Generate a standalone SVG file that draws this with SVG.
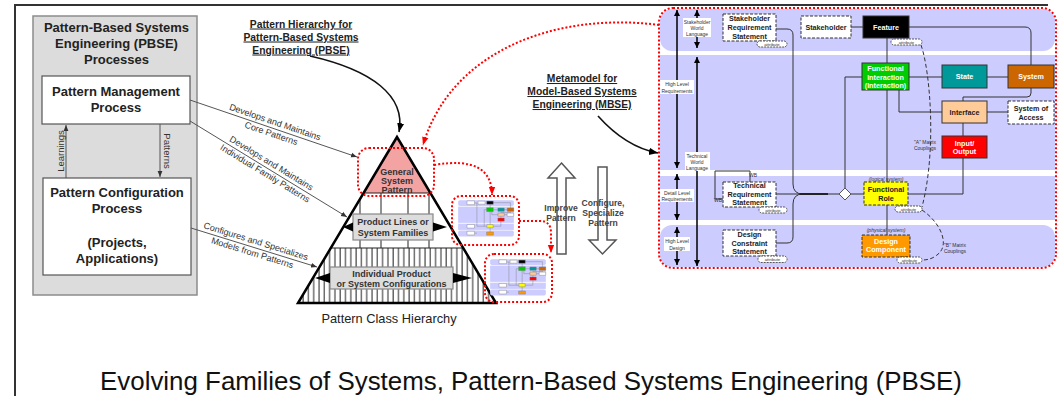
<svg xmlns="http://www.w3.org/2000/svg" width="1059" height="396" viewBox="0 0 1059 396">
<defs>
<style>
text{font-family:"Liberation Sans",Arial,Helvetica,sans-serif;}
.b{font-weight:bold;}
.c{text-anchor:middle;}
.frame{stroke:#333;stroke-width:2;fill:none;}
.box{fill:#fff;stroke:#555;stroke-width:1.2;}
.pt13{font-size:13px;fill:#222;font-weight:bold;text-anchor:middle;}
.lbl{font-size:9px;fill:#333;text-anchor:middle;}
.ln{stroke:#555;stroke-width:1;fill:none;}
.blk{stroke:#111;stroke-width:1.6;fill:none;}
.red{stroke:#f00;stroke-width:2;stroke-dasharray:2 2;fill:none;}
.mm{stroke:#333;stroke-width:1;fill:none;}
.mmd{stroke:#333;stroke-width:1;fill:none;stroke-dasharray:4 2.5;}
.lev{stroke:#000;stroke-width:1.5;fill:none;}
.band{fill:#ccccff;}
.node{stroke:#333;stroke-width:1;}
.dash{stroke-dasharray:3 1.5;}
.nt{font-size:7.2px;font-weight:bold;text-anchor:middle;fill:#222;}
.wt{fill:#fff;}
.tiny{font-size:5px;fill:#333;text-anchor:middle;}
.pill{fill:#fff;stroke:#333;stroke-width:0.8;stroke-dasharray:2 1;}
.ptx{font-size:4.3px;fill:#333;text-anchor:middle;}
.pyt{font-size:9px;font-weight:bold;fill:#333;text-anchor:middle;}
.ttl{font-size:10.3px;font-weight:bold;fill:#222;text-anchor:middle;text-decoration:underline;}
.hol{fill:#fff;stroke:#555;stroke-width:1.5;}
.mid{font-size:8.6px;font-weight:bold;fill:#444;text-anchor:middle;}
.mn{stroke:#777;stroke-width:0.4;vector-effect:non-scaling-stroke;}
</style>
<marker id="arr" viewBox="0 0 10 10" refX="10" refY="5" markerWidth="6" markerHeight="6" markerUnits="userSpaceOnUse" orient="auto"><path d="M0,1 L10,5 L0,9 z" fill="#333"/></marker>
<marker id="arrB" viewBox="0 0 10 10" refX="10" refY="5" markerWidth="9" markerHeight="9" markerUnits="userSpaceOnUse" orient="auto"><path d="M0,1 L10,5 L0,9 z" fill="#000"/></marker>
<marker id="arrR" viewBox="0 0 10 10" refX="10" refY="5" markerWidth="8" markerHeight="8" markerUnits="userSpaceOnUse" orient="auto"><path d="M0,1 L10,5 L0,9 z" fill="#f00"/></marker>
<marker id="lv" viewBox="0 0 10 10" refX="10" refY="5" markerWidth="6" markerHeight="6" markerUnits="userSpaceOnUse" orient="auto-start-reverse"><path d="M0,0 L10,5 L0,10 z" fill="#000"/></marker>
<pattern id="hatch" width="5.3" height="10" patternUnits="userSpaceOnUse"><line x1="1" y1="0" x2="1" y2="10" stroke="#222" stroke-width="1"/></pattern>
<clipPath id="triClip"><polygon points="397,137 298,303 496,303"/></clipPath>
<g id="mini">
<rect x="660" y="9" width="395" height="42" rx="12" class="band"/>
<rect x="660" y="55" width="395" height="115" class="band"/>
<rect x="660" y="176" width="395" height="44" class="band"/>
<rect x="660" y="225" width="395" height="42" rx="12" class="band"/>
<path class="mn" fill="none" d="M776,29 H793 V194 H864 M776,243 H793 M845,194 V77 H862 M887,38 V235 M909,27 H1031 V65 M909,77 H1008 M899,90 V112 H1008 M963,101 V97 H1031 V88 M963,123 V136 M963,158 V194 H908"/>
<rect class="mn" x="723" y="14" width="53" height="27" fill="#fff"/>
<rect class="mn" x="801" y="16" width="50" height="22" fill="#fff"/>
<rect class="mn" x="863" y="16" width="46" height="22" fill="#000"/>
<rect class="mn" x="862" y="63" width="47" height="27" fill="#00cc00"/>
<rect class="mn" x="942" y="65" width="45" height="23" fill="#009999"/>
<rect class="mn" x="1008" y="65" width="46" height="23" fill="#cc6600"/>
<rect class="mn" x="942" y="101" width="45" height="22" fill="#ffcc99"/>
<rect class="mn" x="1008" y="101" width="46" height="23" fill="#fff"/>
<rect class="mn" x="942" y="136" width="45" height="22" fill="#ff0000"/>
<rect class="mn" x="864" y="182" width="44" height="23" fill="#ffff00"/>
<rect class="mn" x="862" y="235" width="48" height="22" fill="#ff9900"/>
<rect class="mn" x="723" y="182" width="53" height="25" fill="#fff"/>
<rect class="mn" x="723" y="230" width="53" height="26" fill="#fff"/>
</g>
</defs>

<rect width="1059" height="396" fill="#fff"/>
<g id="frame"><path class="frame" d="M15,396 V5 H1048"/></g>

<g id="pbse-processes">
<rect x="33" y="16" width="164" height="279" fill="#dcdcdc" stroke="#8c8c8c" stroke-width="1.5"/>
<text class="pt13" x="116.5" y="32">Pattern-Based Systems</text>
<text class="pt13" x="116.5" y="48">Engineering (PBSE)</text>
<text class="pt13" x="116.5" y="64">Processes</text>
</g>

<g id="pyramid">
<polygon points="397,137 363.6,193 430.4,193" fill="#f4a3a3"/>
<polygon points="330.8,248 463.2,248 496,303 298,303" fill="url(#hatch)" clip-path="url(#triClip)"/>
<g clip-path="url(#triClip)" stroke="#222" stroke-width="1">
<path d="M360,193 V248 M381,193 V248 M408,193 V248 M429,193 V248"/>
</g>
<path d="M363.6,193 H430.4 M330.8,248 H463.2" stroke="#222" stroke-width="1.2"/>
<polygon points="397,137 298,303 496,303" fill="none" stroke="#000" stroke-width="2.5"/>
<text x="389" y="323" font-size="12.8" fill="#222" text-anchor="middle">Pattern Class Hierarchy</text>
</g>

<g id="metamodel-frame">
<rect x="660" y="9" width="395" height="42" rx="12" class="band"/>
<rect x="660" y="55" width="395" height="115" class="band"/>
<rect x="660" y="176" width="395" height="44" class="band"/>
<rect x="660" y="225" width="395" height="42" rx="12" class="band"/>
<rect x="659" y="8" width="397" height="260" rx="14" class="red"/>
</g>

<g id="title-hierarchy">
<text class="ttl" x="301" y="27.5">Pattern Hierarchy for</text>
<text class="ttl" x="301" y="40.5">Pattern-Based Systems</text>
<text class="ttl" x="301" y="53.5">Engineering (PBSE)</text>
</g>
<g id="title-metamodel">
<text class="ttl" x="582" y="82">Metamodel for</text>
<text class="ttl" x="582" y="95">Model-Based Systems</text>
<text class="ttl" x="582" y="108">Engineering (MBSE)</text>
</g>

<g id="connectors">
<path class="ln" d="M66,178 V125" marker-end="url(#arr)"/>
<path class="ln" d="M160,124 V177" marker-end="url(#arr)"/>
<path class="ln" d="M190,100 L357,157" marker-end="url(#arr)"/>
<path class="ln" d="M190,121 L347,217" marker-end="url(#arr)"/>
<path class="ln" d="M191,228 L317,267" marker-end="url(#arr)"/>
<path class="blk" d="M310,56 C372,70 406,96 399,132" marker-end="url(#arrB)"/>
<path class="blk" d="M598,116 C615,135 636,149 658,153" marker-end="url(#arrB)"/>
<path class="red" d="M659,25 C560,12 452,48 423,145" marker-end="url(#arrR)"/>
<path class="red" d="M434,165 C475,158 492,170 492,195" marker-end="url(#arrR)"/>
<path class="red" d="M519,221 H540 Q551,221 551,233 V253" marker-end="url(#arrR)"/>
<path class="mm" d="M776,29 H787 Q793,29 793,35 V184 Q793,194 803,194"/>
<path class="mm" d="M776,243 H787 Q793,243 793,237 V204 Q793,194 803,194"/>
<path class="mm" d="M776,194 H839"/>
<path d="M800,194 H828" stroke="#222" stroke-width="2"/>
<path class="mm" d="M851,194 H864"/>
<path class="mm" d="M845,188 V77 H862"/>
<path class="mm" d="M887,38 V235"/>
<path class="mm" d="M851,27 H863"/>
<path class="mm" d="M909,27 H1025 Q1031,27 1031,33 V65"/>
<path class="mm" d="M909,77 H942"/>
<path class="mm" d="M987,77 H1008"/>
<path class="mm" d="M899,90 V112 H942"/>
<path class="mm" d="M963,101 V97 H1027 Q1031,97 1031,93 V88"/>
<path class="mm" d="M987,112 H1008"/>
<path class="mm" d="M963,123 V136"/>
<path class="mm" d="M963,158 V194 H908"/>
<path class="mm" d="M723,199 H715 V171 H750 V182"/>
<path class="mmd" d="M921,45 C930,70 937,150 922,207"/>
<path class="mmd" d="M922,210 C940,222 951,245 937,255 Q931,260 922,260"/>
<path class="lev" d="M677,10 V168" marker-start="url(#lv)" marker-end="url(#lv)"/>
<path class="lev" d="M677,174 V220" marker-start="url(#lv)" marker-end="url(#lv)"/>
<path class="lev" d="M677,227 V265" marker-start="url(#lv)" marker-end="url(#lv)"/>
<path class="lev" d="M697,10 V48" marker-start="url(#lv)" marker-end="url(#lv)"/>
<path class="lev" d="M697,57 V266" marker-start="url(#lv)" marker-end="url(#lv)"/>
</g>

<g id="connector-labels">
<text transform="translate(63.5,151) rotate(-90)" font-size="9.5" fill="#333" text-anchor="middle">Learnings</text>
<text transform="translate(163.5,151) rotate(90)" font-size="9.5" fill="#333" text-anchor="middle">Patterns</text>
<g transform="translate(273,128.3) rotate(18.85)">
<text class="lbl" x="0" y="-3.5">Develops and Maintains</text>
<text class="lbl" x="0" y="8.5">Core Patterns</text>
</g>
<g transform="translate(268,168.7) rotate(31.45)">
<text class="lbl" x="0" y="-3.5">Develops and Maintains</text>
<text class="lbl" x="0" y="8.5">Individual Family Patterns</text>
</g>
<g transform="translate(254,247.5) rotate(17.2)">
<text class="lbl" x="0" y="-3.5">Configures and Specializes</text>
<text class="lbl" x="0" y="8.5">Models from Patterns</text>
</g>
<text class="tiny" x="753" y="177" font-size="4.5">WB</text>
<text class="tiny" x="718" y="202" font-size="4.5" fill="#33c">WB</text>
<text class="tiny" x="925" y="143.5" font-size="4.6">"A" Matrix</text>
<text class="tiny" x="925" y="149.5" font-size="4.6">Couplings</text>
<text class="tiny" x="955" y="246.5" font-size="4.6">"B" Matrix</text>
<text class="tiny" x="955" y="252.5" font-size="4.6">Couplings</text>
</g>

<g id="levels">
<rect x="683" y="18" width="28" height="19" fill="#fff"/>
<text class="tiny" x="697" y="23.5">Stakeholder</text>
<text class="tiny" x="697" y="29.5">World</text>
<text class="tiny" x="697" y="35.5">Language</text>
<rect x="660" y="80" width="34" height="14" fill="#fff"/>
<text class="tiny" x="677" y="86" font-size="5.3">High Level</text>
<text class="tiny" x="677" y="92.5" font-size="5.3">Requirements</text>
<rect x="685" y="152" width="25" height="19" fill="#fff"/>
<text class="tiny" x="697" y="157.5">Technical</text>
<text class="tiny" x="697" y="163.5">World</text>
<text class="tiny" x="697" y="169.5">Language</text>
<rect x="660" y="189" width="34" height="13" fill="#fff"/>
<text class="tiny" x="677" y="195" font-size="5.3">Detail Level</text>
<text class="tiny" x="677" y="201" font-size="5.3">Requirements</text>
<rect x="664" y="237" width="26" height="14" fill="#fff"/>
<text class="tiny" x="677" y="243" font-size="5.3">High Level</text>
<text class="tiny" x="677" y="249.5" font-size="5.3">Design</text>
</g>

<g id="pattern-management">
<rect class="box" x="42" y="76" width="148" height="48"/>
<text class="pt13" x="116" y="96">Pattern Management</text>
<text class="pt13" x="116" y="112">Process</text>
</g>
<g id="pattern-configuration">
<rect class="box" x="43" y="178" width="148" height="97"/>
<text class="pt13" x="117" y="197">Pattern Configuration</text>
<text class="pt13" x="117" y="213">Process</text>
<text class="pt13" x="117" y="247">(Projects,</text>
<text class="pt13" x="117" y="263">Applications)</text>
</g>

<g id="general-system-pattern">
<text class="pyt" x="397" y="174.5" font-size="8.6">General</text>
<text class="pyt" x="397" y="183.5" font-size="8.6">System</text>
<text class="pyt" x="397" y="192.5" font-size="8.6">Pattern</text>
<rect x="358" y="148" width="76" height="48" rx="11" class="red"/>
</g>
<g id="product-lines">
<rect x="353" y="214" width="80" height="26" fill="#ddd" stroke="#888" stroke-width="1.2"/>
<text class="pyt" x="393" y="225">Product Lines or</text>
<text class="pyt" x="393" y="236">System Families</text>
<polygon points="353,222.5 353,231.5 343,227" fill="#000"/>
<polygon points="433,222.5 433,231.5 447,227" fill="#000"/>
</g>
<g id="individual-products">
<rect x="330" y="267" width="123" height="22" fill="#ddd" stroke="#888" stroke-width="1.2"/>
<text class="pyt" x="391.5" y="276.5">Individual Product</text>
<text class="pyt" x="391.5" y="287">or System Configurations</text>
<polygon points="330,273 330,283 315,278" fill="#000"/>
<polygon points="453,273 453,283 472,278" fill="#000"/>
</g>

<g id="thumbnail-1">
<rect x="452" y="196" width="67" height="49" rx="9" fill="#fff" class="red"/>
<use href="#mini" transform="translate(458,200) scale(0.141) translate(-659,-8)"/>
</g>
<g id="thumbnail-2">
<rect x="485" y="254" width="67" height="48" rx="9" fill="#fff" class="red"/>
<use href="#mini" transform="translate(490,259) scale(0.141) translate(-659,-8)"/>
</g>

<g id="improve-pattern">
<polygon class="hol" points="561.5,163 575,178 566,178 566,254 557,254 557,178 548,178"/>
<text class="mid" x="561" y="211">Improve</text>
<text class="mid" x="561" y="221">Pattern</text>
</g>
<g id="configure-pattern">
<polygon class="hol" points="598,167 607,167 607,240 616,240 602.5,254 589,240 598,240"/>
<text class="mid" x="603" y="206">Configure,</text>
<text class="mid" x="603" y="216">Specialize</text>
<text class="mid" x="603" y="226">Pattern</text>
</g>

<g id="stakeholder-requirement-statement">
<rect class="node dash" x="723" y="14" width="53" height="27" fill="#fff"/>
<text class="nt" x="749.5" y="20.5">Stakeholder</text>
<text class="nt" x="749.5" y="30">Requirement</text>
<text class="nt" x="749.5" y="38.5">Statement</text>
<rect class="pill" x="757" y="41" width="30" height="6" rx="3"/>
<text class="ptx" x="772" y="45.5">attribute</text>
</g>
<g id="stakeholder">
<rect class="node dash" x="801" y="16" width="50" height="22" fill="#fff"/>
<text class="nt" x="826" y="29.5">Stakeholder</text>
</g>
<g id="feature">
<rect class="node" x="863" y="16" width="46" height="22" fill="#000"/>
<text class="nt wt" x="886" y="29.5">Feature</text>
<rect class="pill" x="891" y="39" width="31" height="6" rx="3"/>
<text class="ptx" x="906.5" y="43.5">attribute</text>
</g>
<g id="functional-interaction">
<rect class="node" x="862" y="63" width="47" height="27" fill="#00cc00"/>
<text class="nt wt" x="885.5" y="70.5" font-size="6.8">Functional</text>
<text class="nt wt" x="885.5" y="79.5" font-size="6.8">Interaction</text>
<text class="nt wt" x="885.5" y="88.3" font-size="6.8">(Interaction)</text>
</g>
<g id="state">
<rect class="node" x="942" y="65" width="45" height="23" fill="#009999"/>
<text class="nt wt" x="964.5" y="79">State</text>
</g>
<g id="system">
<rect class="node" x="1008" y="65" width="46" height="23" fill="#cc6600"/>
<text class="nt wt" x="1031" y="79">System</text>
</g>
<g id="interface">
<rect class="node" x="942" y="101" width="45" height="22" fill="#ffcc99"/>
<text class="nt" x="964.5" y="114.5">Interface</text>
</g>
<g id="system-of-access">
<rect class="node dash" x="1008" y="101" width="46" height="23" fill="#fff"/>
<text class="nt" x="1031" y="110.5">System of</text>
<text class="nt" x="1031" y="119.5">Access</text>
</g>
<g id="input-output">
<rect class="node" x="942" y="136" width="45" height="22" fill="#ff0000"/>
<text class="nt wt" x="964.5" y="145.5" font-weight="normal">Input/</text>
<text class="nt wt" x="964.5" y="154" font-weight="normal">Output</text>
</g>
<g id="technical-requirement-statement">
<rect class="node dash" x="723" y="182" width="53" height="25" fill="#fff"/>
<text class="nt" x="749.5" y="188">Technical</text>
<text class="nt" x="749.5" y="196.5">Requirement</text>
<text class="nt" x="749.5" y="205">Statement</text>
<rect class="pill" x="759" y="207" width="28" height="6" rx="3"/>
<text class="ptx" x="773" y="211.5">attribute</text>
</g>
<g id="design-constraint-statement">
<rect class="node dash" x="723" y="230" width="53" height="26" fill="#fff"/>
<text class="nt" x="749.5" y="236.5">Design</text>
<text class="nt" x="749.5" y="245.5">Constraint</text>
<text class="nt" x="749.5" y="254">Statement</text>
<rect class="pill" x="758" y="256" width="29" height="6.5" rx="3"/>
<text class="ptx" x="772.5" y="260.8">attribute</text>
</g>
<g id="junction">
<polygon points="845,188 851,194 845,200 839,194" fill="#fff" stroke="#555" stroke-width="1"/>
</g>
<g id="functional-role">
<text class="tiny" x="886" y="180.5" font-style="italic">(logical system)</text>
<rect class="node dash" x="864" y="182" width="44" height="23" fill="#ffff00"/>
<text class="nt" x="886" y="191.5">Functional</text>
<text class="nt" x="886" y="200.5">Role</text>
<rect class="pill" x="895" y="206" width="27" height="6" rx="3"/>
<text class="ptx" x="908.5" y="210.5">attribute</text>
</g>
<g id="design-component">
<text class="tiny" x="886" y="232" font-style="italic">(physical system)</text>
<rect class="node dash" x="862" y="235" width="48" height="22" fill="#ff9900"/>
<text class="nt wt" x="886" y="243.5">Design</text>
<text class="nt wt" x="886" y="252">Component</text>
<rect class="pill" x="897" y="257" width="25" height="6" rx="3"/>
<text class="ptx" x="909.5" y="261.5">attribute</text>
</g>

<text x="531" y="390" font-size="25.9" fill="#111" text-anchor="middle">Evolving Families of Systems, Pattern-Based Systems Engineering (PBSE)</text>
</svg>
